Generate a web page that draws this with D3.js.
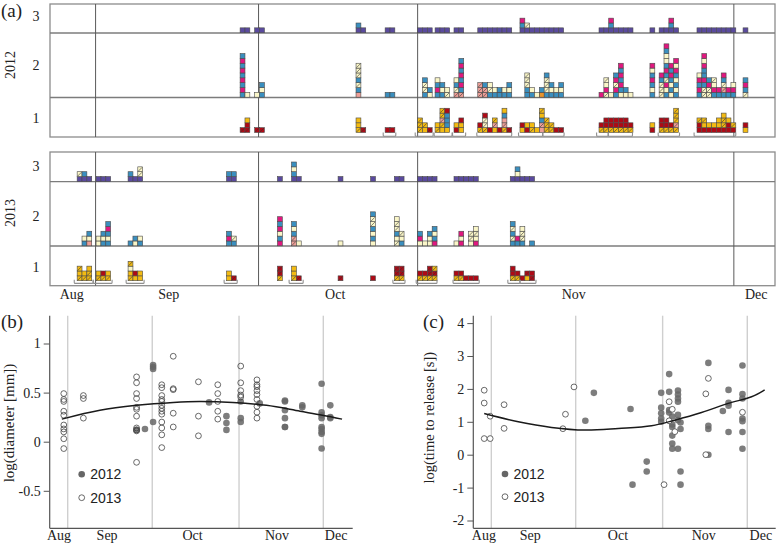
<!DOCTYPE html>
<html><head><meta charset="utf-8">
<script src="https://cdnjs.cloudflare.com/ajax/libs/d3/7.8.5/d3.min.js"></script>
<style>html,body{margin:0;background:#fff}svg{display:block}text{font-family:"Liberation Serif",serif;fill:#222}.sans{font-family:"Liberation Sans",sans-serif}</style>
</head><body><svg id="c" width="778" height="545"></svg>
<script>
// Panel (a): each group = [first day, column stacks bottom to top]. P purple, B blue, M magenta, C cream, S pink, R red, Y yellow, O orange; lowercase = hatched
const y2012row3=[[39.2,"P","P"],[42.2,"P","P"],[63.1,"PB","P"],[69.1,"P","P"],[75.8,"P","P","P"],[79.4,"P","P","P"],[83.3,"P","P"],[88.2,"P","P","P","P","P","P","P"],[96.9,"PBM","Pc","P","P","P","P","P","P","P"],[113.2,"P","P","PBM","P","P","P","P"],[123.7,"P"],[125.6,"P","P","PBM","P"],[133.4,"P","P","P","P","P","P","P","P"],[142.9,"P"]];
const y2012row2=[[39.2,"BMBMBMBMB","C"],[42.2,"C","BCB"],[63.1,"SBcBccc"],[69.1,"B","B"],[75.8,"","BccB","CB"],[79.4,"BMBC","BCB","cC"],[83.3,"scBC","sBMBMBMB"],[88.2,"sss","ssB","BcC","BC","BB","BC","BCB"],[96.9,"","BBccc","BC","C","OB","BcccB","BCB","BC","BCB"],[113.2,"M","cMCc","C","BMcMB","CBMBMBM","CB","C"],[123.7,"BCBMBCM"],[125.6,"cccBM","BCMcBMBCCBM","CBCBMBM","BCBCBMCM"],[133.4,"BMBMC","ccBMBBMCM","ccMB","BMCc","BM","BscBM","BM","BMC"],[142.9,"cBMB"]];
const y2012row1=[[39.2,"r","rRY"],[42.2,"r","r"],[63.1,"yYY","r"],[69.1,"R","R"],[75.8,"yyy","Yy","r"],[79.4,"yY","Yysyy","YBBBR"],[83.3,"RY","YYR"],[88.2,"yR","yccR","R","Ysy","R","ysSBY","r"],[96.9,"YR","RY","yY","Y","SsBYy","yyy","yy","R","r"],[113.2,"yR","yRR","yRR","yRR","yRR","yRR","yR"],[123.7,"RY"],[125.6,"yRR","yRR","yR","ysyyy"],[133.4,"RRy","RYy","RY","RY","RYY","RyyY","RRY","Ry"],[142.9,"YR"]];
const y2013row3=[[5.6,"Pc","PB","P"],[9.5,"P","P","P"],[16.1,"PB","P","Pcc"],[36.4,"PB","PB"],[46.9,"P"],[49.8,"PBCB","P"],[59.4,"P"],[66.1,"P"],[71,"P","P"],[75.8,"P","P","P","P"],[83.3,"P","P","P","P","P"],[94.9,"P","PCB","P","P","P"]];
const y2013row2=[[5.6,"","BC","SCB"],[9.5,"CC","BCB","BCBMB"],[16.1,"B","CB","BC"],[36.4,"BMB","Bc"],[46.9,"MBCMBM"],[49.8,"ssBCB","C"],[59.4,"C"],[66.1,"CBCBccB"],[71,"cCBccC","BCc"],[75.8,"CMB","C","CCB","MBCB"],[83.3,"C","MCM","","Ccc","MCcC"],[94.9,"BcBcB","BM","BccC","","B"]];
const y2013row1=[[5.6,"yYy","yY","yyY"],[9.5,"yY","yR","yY"],[16.1,"yYCy","YR","YY"],[36.4,"YY","r"],[46.9,"yrr"],[49.8,"yYY","r"],[59.4,"r"],[66.1,"R"],[71,"yrr","yrr"],[75.8,"yR","yR","yrr","yry"],[83.3,"yR","yR","R","R","R"],[94.9,"yRR","yR","R","Yr","rR"]];
const brackets2012=[[68.7,71.3],[75.3,79],[79.2,82.9],[83,85.7],[88,95.2],[96.6,101.6],[101.6,106],[112.7,115.1],[115.1,120.1],[125.4,129.8],[132.8,141.4]];
const brackets2013=[[5,8.9],[8.9,12.8],[15.7,19.4],[35.9,38.6],[49.3,52.2],[70.7,73.2],[75.5,79.8],[83.1,88.5],[94.4,96.9],[96.9,100.2]];
const monthLines=[9.4,43,75.8,141];
const monthNames=["Aug","Sep","Oct","Nov","Dec"];
const monthLabelDays=[4.5,24.5,58.8,108,145.6];

// Panel (b): [day from 1 Sep, log diameter]
const diam2013=[[-1.4,.49],[-1.4,.43],[-1.4,.41],[-1.4,.31],[-1.4,.27],[-1.4,.17],[-1.4,.13],[-1.4,.10],[-1.4,.03],[-1.4,-.07],[5.6,.47],[5.6,.44],[5.6,.24],[24.6,.66],[24.6,.60],[24.6,.49],[24.6,.44],[24.6,.35],[24.6,.33],[24.6,.26],[24.6,.14],[24.6,.12],[24.6,.11],[24.6,-.21],[33.6,.58],[33.6,.55],[33.6,.47],[33.6,.43],[33.6,.41],[33.6,.37],[33.6,.34],[33.6,.31],[33.6,.28],[33.6,.20],[33.6,.14],[33.6,.07],[33.6,-.06],[37.7,.87],[37.7,.54],[37.7,.53],[37.7,.29],[37.7,.15],[46.7,.61],[46.7,.26],[46.7,.06],[53.6,.58],[53.6,.49],[53.6,.41],[53.6,.31],[53.6,.23],[61.8,.77],[61.8,.60],[61.8,.52],[61.8,.475],[61.8,.455],[67.6,.63],[67.6,.58],[67.6,.56],[67.6,.52],[67.6,.48],[67.6,.43],[67.6,.36],[67.6,.30],[67.6,.24]];
const diam2012=[[24.6,.12],[27.6,.13],[30.5,.78],[30.5,.76],[30.5,.74],[30.5,.20],[50.5,.40],[56.7,.26],[56.7,.19],[56.7,.12],[61.8,.41],[61.8,.24],[61.8,.20],[68.6,.39],[77.6,.42],[77.6,.41],[77.6,.32],[77.6,.24],[77.6,.15],[77.6,.15],[83.8,.37],[83.8,.35],[90.7,.59],[90.7,.30],[90.7,.27],[90.7,.24],[90.7,.15],[90.7,.13],[90.7,.10],[90.7,.08],[90.7,-.07],[93.8,.37],[93.8,.25],[93.8,.24]];
const diamCurve=[[-2.1,.23],[11.5,.32],[24.6,.37],[37.7,.40],[47,.41],[59,.40],[71,.37],[83,.31],[91,.27],[98,.23]];
const diamTicks=[1,0.5,0,-0.5];
const diamLabelDays=[-3.3,13.9,44.4,74.6,95.7];

// Panel (c): [day from 1 Sep, log time to release]
const time2013=[[-2.5,1.96],[-2.5,1.57],[-2.5,.49],[-.4,.49],[-.4,1.17],[4.5,1.52],[4.5,.80],[25.2,.79],[26.1,1.23],[29.1,2.06],[60.8,-.91],[62.6,1.61],[63.7,1.38],[62.6,1.03],[64.6,.70],[75.5,1.85],[76.4,2.32],[75.5,0],[88.4,1.29]];
const time2012=[[33.1,1.03],[36.1,1.88],[49,1.39],[49.7,-.91],[54.7,-.21],[54.7,-.51],[59.8,1.88],[59.8,1.43],[59.8,1.26],[59.8,1.10],[59.8,1.0],[62.6,2.45],[62.6,1.91],[62.6,1.36],[62.6,1.28],[63.7,1.16],[63.7,.92],[63.7,.84],[63.7,.58],[63.7,.34],[63.7,.18],[65.7,1.95],[65.7,1.83],[65.7,1.71],[65.7,1.61],[65.7,1.21],[65.7,1.05],[65.7,.18],[66.6,.98],[66.6,.78],[66.6,-.51],[66.6,-.91],[76.4,2.79],[76.4,.88],[76.4,.78],[76.4,0],[81.5,1.33],[83.5,1.97],[83.5,1.58],[83.5,1.49],[83.5,.69],[88.4,2.71],[88.4,1.84],[88.4,1.71],[88.4,1.10],[88.4,1.02],[88.4,.69],[88.4,.18]];
const timeCurve=[[-2.5,1.25],[9.5,1.0],[21.2,.83],[33,.75],[44.7,.80],[56.4,.88],[64.6,1.05],[74,1.28],[83.4,1.56],[91.6,1.76],[96.2,1.97]];
const timeTicks=[4,3,2,1,0,-1,-2];
const timeLabelDays=[-2.8,13.5,44.4,74.6,94.7];
const legendYears=["2012","2013"];

const svg=d3.select("#c");
const colors={P:"#5a4a9e",B:"#3a8fbf",M:"#e0187f",C:"#faf6c8",S:"#ee9f98",R:"#ae0a16",Y:"#f3bb12",O:"#e8942c"};
const dayX=d3.scaleLinear().domain([0,150]).range([50,777.5]);
const cellW=dayX(1)-dayX(0), cellH=4.85;

function frame(top,bottom,lines){
  const g=svg.append("g");
  g.append("rect").attr("x",50).attr("y",top).attr("width",725).attr("height",bottom-top).attr("fill","none").attr("stroke","#8c8c8c").attr("stroke-width",1.3);
  lines.forEach(y=>g.append("line").attr("x1",50).attr("x2",775).attr("y1",y).attr("y2",y).attr("stroke","#7c7c7c").attr("stroke-width",1.3));
  g.selectAll(".m").data(monthLines).join("line").attr("x1",dayX).attr("x2",dayX).attr("y1",top).attr("y2",bottom).attr("stroke","#5a5a5a").attr("stroke-width",1);
}
function stacks(groups,baseY){
  const cells=[];
  groups.forEach(([start,...cols])=>cols.forEach((s,i)=>[...s].forEach((k,j)=>cells.push({d:start+i,j,k}))));
  const g=svg.append("g");
  cells.forEach(c=>{
    const x=dayX(c.d), y=baseY-(c.j+1)*cellH;
    g.append("rect").attr("x",x).attr("y",y).attr("width",cellW).attr("height",cellH)
      .attr("fill",colors[c.k.toUpperCase()]).attr("stroke","#4a4a4a").attr("stroke-width",.6);
    if(c.k!==c.k.toUpperCase()){
      g.append("line").attr("x1",x+.5).attr("x2",x+cellW-.5).attr("y1",y+cellH-.5).attr("y2",y+.5).attr("stroke","#333").attr("stroke-width",.6);
    }
  });
}
function brackets(list,y){
  svg.append("g").selectAll("path").data(list).join("path")
   .attr("d",([a,b])=>`M${dayX(a)},${y}v2.6q0,1 1,1H${dayX(b)-1}q1,0 1,-1v-2.6`)
   .attr("fill","none").attr("stroke","#8f8f8f").attr("stroke-width",1.1);
}
function lab(t,x,y,size,anchor,rot){
  const e=svg.append("text").text(t).attr("font-size",size).attr("text-anchor",anchor||"middle").attr("x",x).attr("y",y);
  if(rot)e.attr("transform",`rotate(-90 ${x} ${y})`);
  return e;
}

frame(4,137,[33,97.5]);
stacks(y2012row3,32.7);stacks(y2012row2,97.2);stacks(y2012row1,132.5);brackets(brackets2012,132.6);
frame(152,285.7,[181.7,246]);
stacks(y2013row3,181.4);stacks(y2013row2,245.8);stacks(y2013row1,280.7);brackets(brackets2013,279.8);

lab("(a)",1,17,19,"start");
lab("2012",15,65,14,"middle",true);
lab("2013",15,213,14,"middle",true);
[["3",21],["2",70],["1",123]].forEach(([t,y])=>lab(t,36,y,14));
[["3",171],["2",221],["1",272]].forEach(([t,y])=>lab(t,36,y,14));
monthNames.forEach((m,i)=>lab(m,dayX(monthLabelDays[i]),299,14));

function scatter(o){
  const g=svg.append("g");
  const x=d3.scaleLinear().domain(o.xd).range([o.x0,o.x1]);
  const y=d3.scaleLinear().domain([0,1]).range([o.y0,o.y0-o.unit]);
  g.selectAll(".v").data(o.lines).join("line").attr("x1",d=>x(d)).attr("x2",d=>x(d)).attr("y1",o.top).attr("y2",528).attr("stroke","#cfcfcf").attr("stroke-width",1.4);
  const ax=g.append("g").attr("transform",`translate(${o.x0},0)`).call(d3.axisLeft(y).tickValues(o.ticks).tickSize(6).tickFormat(d=>String(d)));
  ax.select(".domain").attr("d",`M0,${o.top}V528.3`).attr("stroke","#555").attr("stroke-width",1.2);
  ax.selectAll("line").attr("stroke","#555");
  ax.selectAll("text").attr("font-size",14).attr("font-family","Liberation Serif").attr("fill","#222");
  const bx=g.append("g").attr("transform","translate(0,528.3)").call(d3.axisBottom(x).tickValues(o.labelDays).tickSize(0).tickFormat((d,i)=>monthNames[i]));
  bx.select(".domain").attr("d",`M${o.x0},0H${o.x1}`).attr("stroke","#555").attr("stroke-width",1.2);
  bx.selectAll("text").attr("font-size",14).attr("font-family","Liberation Serif").attr("fill","#222").attr("dy","0.7em").attr("y",2);
  g.selectAll(".f").data(o.filled).join("circle").attr("cx",d=>x(d[0])).attr("cy",d=>y(d[1])).attr("r",3.3).attr("fill","#666").attr("fill-opacity",.85);
  g.selectAll(".o").data(o.open).join("circle").attr("cx",d=>x(d[0])).attr("cy",d=>y(d[1])).attr("r",2.9).attr("fill",o.fillOpen).attr("stroke","#444").attr("stroke-width",.8);
  g.append("path").attr("d",d3.line().x(d=>x(d[0])).y(d=>y(d[1])).curve(d3.curveCatmullRom)(o.curve)).attr("fill","none").attr("stroke","#1a1a1a").attr("stroke-width",1.5);
  legendYears.forEach((t,i)=>{
    const ly=o.legY[i];
    const c=g.append("circle").attr("cx",o.legX).attr("cy",ly);
    if(i===0)c.attr("r",3.3).attr("fill","#666");
    else c.attr("r",2.9).attr("fill","#fff").attr("stroke","#444").attr("stroke-width",.8);
    lab(t,o.legX+8.5,ly+5,14,"start").attr("class","sans");
  });
}
scatter({xd:[-6.43,101.8],x0:49.7,x1:352.7,y0:441.7,unit:98.2,top:315.7,lines:[0,30.2,61.2,91.3],ticks:diamTicks,labelDays:diamLabelDays,filled:diam2012,open:diam2013,fillOpen:"none",curve:diamCurve,legX:81.7,legY:[474.3,497.7]});
scatter({xd:[-6.34,100.1],x0:473.3,x1:775.7,y0:454.7,unit:32.9,top:315.7,lines:[0,29.7,60.3,90.1],ticks:timeTicks,labelDays:timeLabelDays,filled:time2012,open:time2013,fillOpen:"#fff",curve:timeCurve,legX:505,legY:[474,496.7]});
lab("(b)",1,328,19,"start");
lab("(c)",423,328,19,"start");
lab("log(diameter [mm])",14,423,15,"middle",true);
lab("log(time to release [s])",434,417.7,14.5,"middle",true);
</script></body></html>
